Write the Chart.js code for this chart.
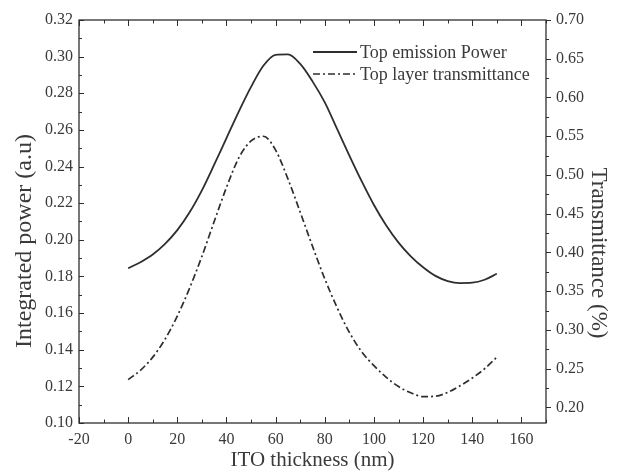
<!DOCTYPE html>
<html><head><meta charset="utf-8">
<script src="https://cdn.jsdelivr.net/npm/chart.js@4.4.1/dist/chart.umd.min.js"></script>
<style>html,body{margin:0;padding:0;background:#fff;overflow:hidden}</style>
</head><body><canvas id="c" width="617" height="472"></canvas>
<script>
// ---- data ----
const xValues = [0,5,10,15,20,25,30,35,40,45,50,55,60,65,70,75,80,85,90,95,100,105,110,115,120,125,130,135,140,145,150];
const powerValues = [0.1845,0.1878,0.1920,0.1978,0.2053,0.2150,0.2270,0.2410,0.2555,0.2700,0.2835,0.2950,0.3010,0.3012,0.2960,0.2865,0.2750,0.2605,0.2460,0.2320,0.2190,0.2078,0.1985,0.1910,0.1850,0.1803,0.1775,0.1764,0.1766,0.1782,0.1815];
const transValues = [0.236,0.248,0.265,0.288,0.318,0.354,0.395,0.440,0.484,0.522,0.544,0.550,0.532,0.495,0.452,0.408,0.366,0.329,0.297,0.272,0.254,0.239,0.227,0.219,0.214,0.2145,0.2195,0.228,0.238,0.250,0.265];
const xTicks = [-20,0,20,40,60,80,100,120,140,160];
const leftTicks = [0.10,0.12,0.14,0.16,0.18,0.20,0.22,0.24,0.26,0.28,0.30,0.32];
const rightTicks = [0.20,0.25,0.30,0.35,0.40,0.45,0.50,0.55,0.60,0.65,0.70];
const seriesNames = ['Top emission Power','Top layer transmittance'];
const axisTitles = {x:'ITO thickness (nm)', y:'Integrated power (a.u)', y2:'Transmittance (%)'};

const FONT = 'Liberation Serif';
const INK = '#2e2e2e';
const TXT = '#3a3a3a';

const framePlugin = {
  id:'frame',
  afterDatasetsDraw(chart){
    const {ctx, chartArea:{left,right,top,bottom}, scales:{x,y,y2}} = chart;
    ctx.save();
    ctx.strokeStyle = INK; ctx.lineWidth = 1.3;
    ctx.strokeRect(left, top, right-left, bottom-top);
    ctx.lineWidth = 1;
    ctx.beginPath();
    for (let v = -20; v <= 170; v += 10){
      const px = Math.round(x.getPixelForValue(v)) + 0.5;
      const len = (v % 20 === 0) ? 6 : 3.5;
      ctx.moveTo(px, bottom); ctx.lineTo(px, bottom - len);
      ctx.moveTo(px, top); ctx.lineTo(px, top + len);
    }
    for (let i = 0; i <= 22; i++){
      const v = 0.10 + i*0.01;
      const py = Math.round(y.getPixelForValue(v)) + 0.5;
      const len = (i % 2 === 0) ? 5 : 3;
      ctx.moveTo(left, py); ctx.lineTo(left + len, py);
    }
    for (let i = 0; i <= 20; i++){
      const v = 0.20 + i*0.025;
      const py = Math.round(y2.getPixelForValue(v)) + 0.5;
      const len = (i % 2 === 0) ? 5 : 3;
      ctx.moveTo(right, py); ctx.lineTo(right + len, py);
    }
    ctx.stroke();
    ctx.restore();
  },
  afterDraw(chart){
    const {ctx} = chart;
    ctx.save();
    ctx.fillStyle = TXT;
    ctx.font = '24px "' + FONT + '"';
    ctx.textAlign = 'center'; ctx.textBaseline = 'middle';
    ctx.translate(25, 241); ctx.rotate(-Math.PI/2);
    ctx.fillText(axisTitles.y, 0, 0);
    ctx.restore();
    ctx.save();
    ctx.fillStyle = TXT;
    ctx.font = '23px "' + FONT + '"';
    ctx.textAlign = 'center'; ctx.textBaseline = 'middle';
    ctx.translate(598, 253); ctx.rotate(Math.PI/2);
    ctx.fillText(axisTitles.y2, 0, 0);
    ctx.restore();
    // legend
    ctx.save();
    ctx.font = '18px "' + FONT + '"';
    ctx.textAlign = 'left'; ctx.textBaseline = 'middle';
    chart.data.datasets.forEach((ds, i) => {
      const yy = 52 + i*22;
      ctx.strokeStyle = ds.borderColor; ctx.lineWidth = ds.borderWidth;
      ctx.setLineDash(ds.borderDash || []);
      ctx.beginPath(); ctx.moveTo(313, yy); ctx.lineTo(357, yy); ctx.stroke();
      ctx.setLineDash([]);
      ctx.fillStyle = TXT;
      ctx.fillText(ds.label, 360, yy + 1);
    });
    ctx.restore();
  }
};

new Chart(document.getElementById('c'), {
  type: 'line',
  data: {
    datasets: [
      { label: seriesNames[0], data: xValues.map((v,i)=>({x:v, y:powerValues[i]})), yAxisID:'y',
        borderColor: INK, borderWidth: 1.8, pointRadius: 0, cubicInterpolationMode:'monotone', fill:false },
      { label: seriesNames[1], data: xValues.map((v,i)=>({x:v, y:transValues[i]})), yAxisID:'y2',
        borderColor: INK, borderWidth: 1.7, borderDash:[7,3,2,3], pointRadius: 0, cubicInterpolationMode:'monotone', fill:false }
    ]
  },
  options: {
    responsive:false, animation:false, devicePixelRatio:1,
    layout:{padding:{top:20,left:0,right:0,bottom:0}},
    plugins:{legend:{display:false}, tooltip:{enabled:false}},
    scales:{
      x:{ type:'linear', min:-20, max:170,
        afterBuildTicks: s => { s.ticks = xTicks.map(v=>({value:v})); },
        afterFit: s => { s.height = 49; },
        grid:{display:false, drawTicks:false}, border:{display:false},
        ticks:{ padding:7, color:TXT, font:{family:FONT, size:16}, maxRotation:0, autoSkip:false, callback: v => String(v) },
        title:{ display:true, text:axisTitles.x, color:TXT, font:{family:FONT, size:21, lineHeight:1}, padding:{top:0,bottom:1} }
      },
      y:{ type:'linear', position:'left', min:0.10, max:0.32,
        afterBuildTicks: s => { s.ticks = leftTicks.map(v=>({value:v})); },
        afterFit: s => { s.width = 79; },
        grid:{display:false, drawTicks:false}, border:{display:false},
        ticks:{ padding:6, color:TXT, font:{family:FONT, size:16}, autoSkip:false, callback: v => v.toFixed(2) }
      },
      y2:{ type:'linear', position:'right', min:0.18, max:0.70,
        afterBuildTicks: s => { s.ticks = rightTicks.map(v=>({value:v})); },
        afterFit: s => { s.width = 71; },
        grid:{display:false, drawTicks:false}, border:{display:false},
        ticks:{ padding:10, color:TXT, font:{family:FONT, size:16}, autoSkip:false, callback: v => v.toFixed(2) }
      }
    }
  },
  plugins:[framePlugin]
});
</script>
</body></html>
